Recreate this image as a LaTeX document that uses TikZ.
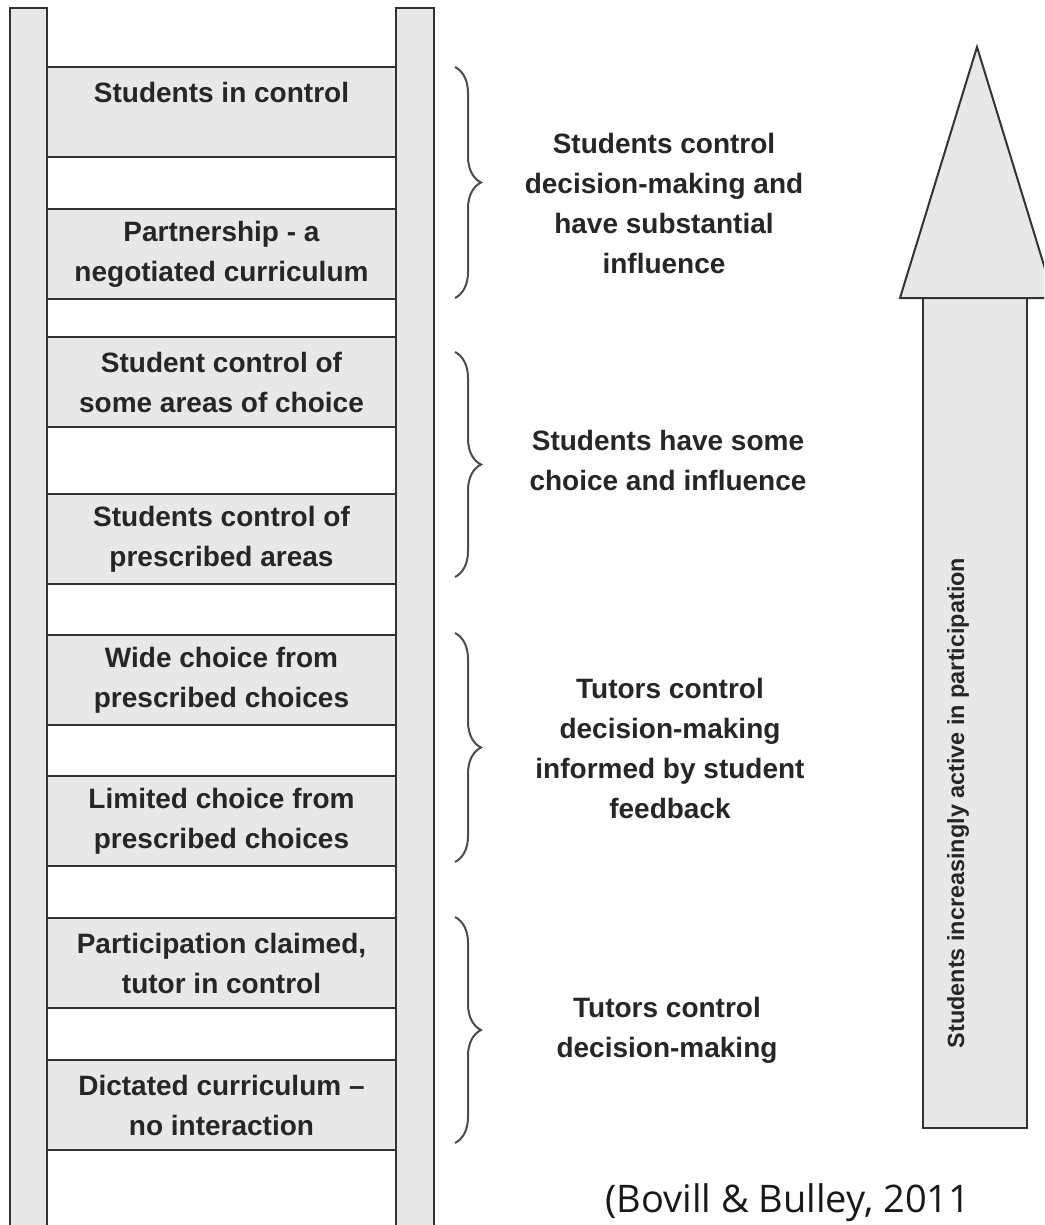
\documentclass[tikz,border=0pt]{standalone}
\usepackage{fontspec}
\setmainfont{Liberation Sans}
\newfontfamily\citefont{Open Sans}
\usepackage{xcolor}
\usetikzlibrary{decorations.pathreplacing}

\begin{document}
\begin{tikzpicture}[x=0.5pt, y=-0.5pt]
	\tikzstyle{rail}=[draw=black!80, fill=black!9, line width=1pt]
	\tikzstyle{rung}=[draw=black!80, fill=black!9, line width=1.4pt, minimum width=174.5pt, minimum height=45pt, inner sep=0pt, align=center, text=black!85, font=\fontsize{14}{20}\selectfont\bfseries]
	\tikzstyle{level}=[align=center, text=black!85, font=\fontsize{14}{20}\selectfont\bfseries]
	\tikzstyle{curly}=[draw=black!70, line width=1pt, decorate, decoration={brace, amplitude=13pt}]

	\useasboundingbox (0,0) rectangle (1044,1225);
	\clip (0,0) rectangle (1044,1225);

	% ladder
	\draw[rail] (10,8) rectangle (47,1260);
	\draw[rail] (396,8) rectangle (434,1260);

	\draw node[rung] at (221.5,112) (r1) {Students in control\\\mbox{}};
	\draw node[rung] at (221.5,254) (r2) {Partnership - a\\negotiated curriculum};
	\draw node[rung] at (221.5,382) (r3) {Student control of\\some areas of choice};
	\draw node[rung] at (221.5,539) (r4) {Students control of\\prescribed areas};
	\draw node[rung] at (221.5,680) (r5) {Wide choice from\\prescribed choices};
	\draw node[rung] at (221.5,821) (r6) {Limited choice from\\prescribed choices};
	\draw node[rung] at (221.5,963) (r7) {Participation claimed,\\tutor in control};
	\draw node[rung] at (221.5,1105) (r8) {Dictated curriculum --\\no interaction};

	% braces and levels
	\coordinate (b1t) at (455,67);   \coordinate (b1b) at (455,298);
	\coordinate (b2t) at (455,352);  \coordinate (b2b) at (455,577);
	\coordinate (b3t) at (455,633);  \coordinate (b3b) at (455,862);
	\coordinate (b4t) at (455,917);  \coordinate (b4b) at (455,1143);
	\draw[curly] (b1t) -- (b1b);
	\draw[curly] (b2t) -- (b2b);
	\draw[curly] (b3t) -- (b3b);
	\draw[curly] (b4t) -- (b4b);

	\draw node[level] at (664,203) (l1) {Students control\\decision-making and\\have substantial\\influence};
	\draw node[level] at (668,460) (l2) {Students have some\\choice and influence};
	\draw node[level] at (670,748) (l3) {Tutors control\\decision-making\\informed by student\\feedback};
	\draw node[level] at (667,1030) (l4) {Tutors control\\decision-making};

	% arrow
	\draw[rail] (923,298) rectangle (1027,1128);
	\draw[rail] (977,47) -- (1054,298) -- (900,298) -- cycle;
	\draw node[rotate=90, text=black!85, font=\fontsize{11.7}{14}\selectfont\bfseries] at (958,803) (trend) {Students increasingly active in participation};

	\draw node[anchor=base west, inner sep=0pt, text=black!90, font=\citefont\fontsize{19}{23}\selectfont] at (605,1212) (cite) {(Bovill \& Bulley, 2011};
\end{tikzpicture}
\end{document}
